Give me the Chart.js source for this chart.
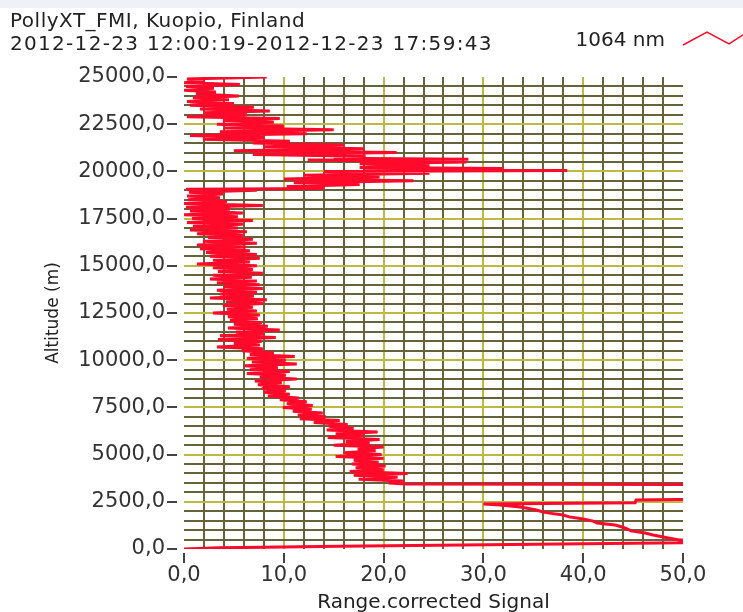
<!DOCTYPE html>
<html>
<head>
<meta charset="utf-8">
<title>PollyXT_FMI range corrected signal</title>
<script src="https://cdn.jsdelivr.net/npm/chart.js@4.4.1/dist/chart.umd.min.js"></script>
<style>
  html, body { margin: 0; padding: 0; background: #fff; }
  canvas { display: block; }
</style>
</head>
<body>
<canvas id="profileChart" width="743" height="612"></canvas>
<script>
// header text
const titleLines = ["PollyXT_FMI, Kuopio, Finland", "2012-12-23 12:00:19-2012-12-23 17:59:43"];
const seriesName = "1064 nm";
const xTitle = "Range.corrected Signal";
const yTitle = "Altitude (m)";

// labelled ticks
const signalTicks = [0, 10, 20, 30, 40, 50];
const altTicks = [0, 2500, 5000, 7500, 10000, 12500, 15000, 17500, 20000, 22500, 25000];

// profile (values past 50 run off the plot)
const altitude = [
    0, 60, 150, 280, 330, 400, 480, 600, 740, 850,
    960, 1060, 1165, 1270, 1380, 1480, 1590, 1700, 1800, 1900,
    1960, 2080, 2225, 2330, 2385, 2400, 2450, 2590, 2620, 2700,
    3000, 3400, 3440,
    3500, 3600, 3700, 3800, 3900, 4000, 4100, 4200, 4300, 4400,
    4500, 4600, 4700, 4800, 4900, 5000, 5100, 5200, 5300, 5400,
    5500, 5600, 5700, 5800, 5900, 6000, 6100, 6200, 6300, 6400,
    6500, 6600, 6700, 6800, 6900, 7000, 7100, 7200, 7300, 7400,
    7500, 7600, 7700, 7800, 7900, 8000, 8100, 8200, 8300, 8400,
    8500, 8600, 8700, 8800, 8900, 9000, 9100, 9200, 9300, 9400,
    9500, 9600, 9700, 9800, 9900, 10000, 10100, 10200, 10300, 10400,
    10500, 10600, 10700, 10800, 10900, 11000, 11100, 11200, 11300, 11400,
    11500, 11600, 11700, 11800, 11900, 12000, 12100, 12200, 12300, 12400,
    12500, 12600, 12700, 12800, 12900, 13000, 13100, 13200, 13300, 13400,
    13500, 13600, 13700, 13800, 13900, 14000, 14100, 14200, 14300, 14400,
    14500, 14600, 14700, 14800, 14900, 15000, 15100, 15200, 15300, 15400,
    15500, 15600, 15700, 15800, 15900, 16000, 16100, 16200, 16300, 16400,
    16500, 16600, 16700, 16800, 16900, 17000, 17100, 17200, 17300, 17400,
    17500, 17600, 17700, 17800, 17900, 18000, 18100, 18200, 18300, 18400,
    18500, 18600, 18700, 18800, 18900, 19000, 19050, 19100, 19200, 19300,
    19400, 19500, 19600, 19700, 19800, 19900, 20000, 20050, 20100, 20150,
    20200, 20300, 20400, 20500, 20600, 20650, 20700, 20800, 20900, 21000,
    21100, 21200, 21300, 21400, 21500, 21600, 21700, 21800, 21900, 22000,
    22100, 22200, 22300, 22400, 22500, 22600, 22700, 22800, 22900, 23000,
    23100, 23200, 23300, 23400, 23500, 23600, 23700, 23800, 23900, 24000,
    24100, 24200, 24300, 24400, 24500, 24600, 24700, 24800, 24900, 25000
];
const signal = [
    0.0, 3.6, 15.6, 40.2, 51.0, 58.0, 49.6, 48.4, 47.0, 46.2,
    44.8, 44.4, 43.9, 43.2, 41.4, 41.0, 40.0, 38.6, 38.0, 36.6,
    36.0, 35.2, 33.7, 31.7, 30.0, 33.0, 45.2, 45.3, 49.5, 56.0,
    70.0, 70.0, 22.3,
    20.5, 22.0, 17.5, 21.4, 17.0, 22.4, 16.6, 20.0, 17.2, 20.2,
    16.8, 19.5, 17.0, 20.0, 15.2, 19.8, 16.0, 19.2, 17.4, 20.0,
    15.0, 18.6, 16.2, 19.6, 14.4, 18.0, 15.2, 19.4, 14.3, 17.0,
    14.5, 16.4, 13.0, 15.6, 11.6, 14.2, 11.4, 13.9, 10.9, 12.8,
    9.9, 12.9, 10.3, 12.3, 9.6, 11.5, 8.4, 10.6, 8.0, 10.2,
    7.8, 10.6, 7.4, 9.8, 7.1, 11.3, 7.6, 10.2, 6.3, 10.6,
    6.6, 9.4, 6.1, 11.3, 6.8, 10.2, 6.3, 11.1, 6.6, 9.0,
    5.8, 7.9, 3.3, 7.6, 5.0, 7.8, 3.4, 9.2, 3.6, 8.0,
    5.2, 9.6, 4.4, 8.4, 5.0, 7.8, 4.6, 7.4, 4.4, 7.6,
    2.9, 7.3, 4.3, 6.9, 3.9, 7.9, 4.2, 8.3, 2.6, 7.0,
    3.6, 7.3, 3.3, 7.9, 4.0, 7.6, 3.3, 7.3, 2.6, 6.8,
    2.9, 7.9, 3.4, 6.9, 2.9, 7.3, 1.3, 6.6, 2.9, 7.6,
    2.6, 7.3, 2.2, 6.6, 1.6, 6.2, 1.3, 7.3, 1.9, 6.9,
    2.4, 5.9, 1.3, 6.3, 0.6, 5.4, 0.9, 5.9, 0.3, 6.9,
    0.8, 5.4, 0.0, 5.9, 0.6, 4.6, 0.2, 7.9, 0.0, 4.3,
    0.4, 3.6, 0.3, 3.9, 0.5, 7.3, 0.2, 14.0, 10.3, 17.6,
    11.0, 23.0, 10.0, 19.6, 12.0, 24.6, 14.0, 38.4, 18.0, 32.0,
    17.6, 24.6, 17.6, 28.3, 12.4, 28.5, 15.0, 18.2, 6.9, 21.3,
    5.0, 18.0, 8.0, 16.0, 6.9, 10.6, 1.9, 8.0, 0.6, 12.3,
    3.6, 15.0, 4.0, 10.0, 3.3, 9.0, 3.9, 9.6, 0.3, 6.3,
    2.0, 8.6, 1.6, 7.0, 0.6, 5.0, 0.3, 4.5, 0.9, 5.5,
    1.2, 3.2, 0.0, 3.0, 0.2, 5.6, 0.0, 2.1, 0.3, 8.3
];

const lineColor = "#ff0a2a";
const majorGrid = "#bdb842";
const minorGrid = "#66623a";
const tickMark = "#444444";

Chart.defaults.font.family = "'DejaVu Sans', sans-serif";

function fmtTick(v) {
    return v.toFixed(1).replace(".", ",");
}

function gridColor(ctx, min, max, labelled) {
    if (!ctx.tick) return "rgba(0,0,0,0)";
    const v = ctx.tick.value;
    if (v === min || v === max) return "rgba(0,0,0,0)";
    return labelled.includes(v) ? majorGrid : minorGrid;
}

const headerPlugin = {
    id: "header",
    beforeDraw(chart) {
        const ctx = chart.ctx;
        ctx.save();
        ctx.fillStyle = "#ffffff";
        ctx.fillRect(0, 0, chart.width, chart.height);
        ctx.fillStyle = "#eef2f8";
        ctx.fillRect(0, 0, chart.width, 8);
        ctx.restore();
    },
    afterDraw(chart) {
        const ctx = chart.ctx;
        ctx.save();
        ctx.fillStyle = "#222222";
        ctx.textBaseline = "middle";
        ctx.textAlign = "left";
        ctx.font = "20px 'DejaVu Sans'";
        ctx.letterSpacing = "0.5px";
        ctx.fillText(titleLines[0], 10, 22);
        ctx.letterSpacing = "1.3px";
        ctx.fillText(titleLines[1], 10, 45);
        ctx.letterSpacing = "0px";

        // legend entry
        ctx.textAlign = "right";
        ctx.fillText(chart.data.datasets[0].label, 665, 41);
        ctx.strokeStyle = lineColor;
        ctx.lineWidth = 1.5;
        ctx.beginPath();
        ctx.moveTo(683, 45);
        ctx.lineTo(707, 32);
        ctx.lineTo(729, 44);
        ctx.lineTo(746, 33);
        ctx.stroke();
        ctx.restore();
    }
};

new Chart(document.getElementById("profileChart"), {
    type: "scatter",
    data: {
        datasets: [{
            label: seriesName,
            data: altitude.map((a, i) => ({ x: signal[i], y: a })),
            showLine: true,
            borderColor: lineColor,
            backgroundColor: lineColor,
            borderWidth: 3,
            pointRadius: 0,
            tension: 0,
            fill: false
        }]
    },
    options: {
        responsive: false,
        animation: false,
        events: [],
        layout: { padding: { left: 0, top: 77, right: 60, bottom: 0 } },
        plugins: {
            legend: { display: false },
            title: { display: false },
            tooltip: { enabled: false }
        },
        scales: {
            x: {
                type: "linear",
                position: "bottom",
                min: 0,
                max: 50,
                afterFit: s => { s.height = 63; },
                border: { display: false },
                grid: {
                    color: c => gridColor(c, 0, 50, signalTicks),
                    lineWidth: 2,
                    tickColor: c => (c.tick && signalTicks.includes(c.tick.value)) ? tickMark : "rgba(0,0,0,0)",
                    tickLength: 14,
                    tickWidth: 2,
                    tickBorderDash: [0, 4, 10, 30]
                },
                ticks: {
                    stepSize: 2,
                    autoSkip: false,
                    minRotation: 0,
                    maxRotation: 0,
                    padding: 0,
                    color: "#333333",
                    font: { size: 21 },
                    callback: v => signalTicks.includes(v) ? fmtTick(v) : ""
                },
                title: {
                    display: true,
                    text: xTitle,
                    color: "#222222",
                    font: { size: 20, lineHeight: 1 },
                    padding: { top: 0, bottom: -1 }
                }
            },
            y: {
                type: "linear",
                min: 0,
                max: 25000,
                afterFit: s => { s.width = 184; },
                border: { display: false },
                grid: {
                    color: c => gridColor(c, 0, 25000, altTicks),
                    lineWidth: 2,
                    tickColor: c => (c.tick && altTicks.includes(c.tick.value)) ? tickMark : "rgba(0,0,0,0)",
                    tickLength: 17,
                    tickWidth: 2,
                    tickBorderDash: [10, 30]
                },
                ticks: {
                    stepSize: 500,
                    autoSkip: false,
                    padding: 2,
                    color: "#333333",
                    font: { size: 21 },
                    callback: v => altTicks.includes(v) ? fmtTick(v) : ""
                },
                title: {
                    display: true,
                    text: yTitle,
                    color: "#222222",
                    font: { size: 17 },
                    padding: { top: 43, bottom: 0 }
                }
            }
        }
    },
    plugins: [headerPlugin]
});
</script>
</body>
</html>
